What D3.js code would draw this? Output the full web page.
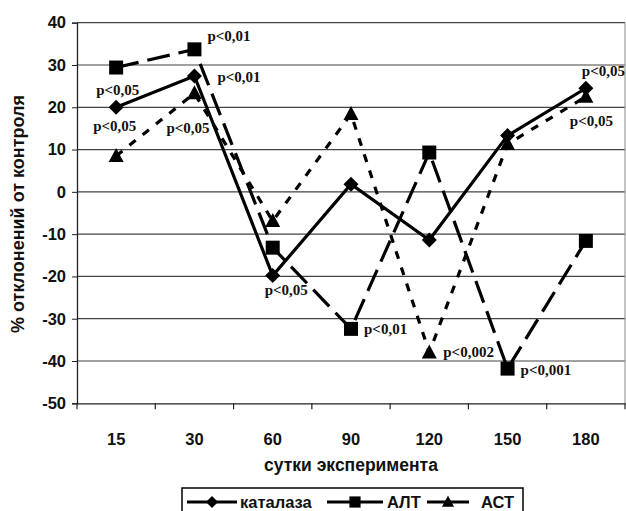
<!DOCTYPE html>
<meta charset="utf-8">
<title>каталаза, АЛТ, АСТ</title>
<script src="https://cdn.jsdelivr.net/npm/d3@7"></script>
<style>
  body { margin: 0; background: #fff; }
  svg { display: block; }
</style>
<body>
<script>

// data
var days = ["15", "30", "60", "90", "120", "150", "180"];
var catalase = [20, 27.4, -19.8, 1.8, -11.4, 13.3, 24.5];
var alt = [29.4, 33.7, -13.2, -32.4, 9.3, -41.8, -11.6];
var ast = [8.5, 23.3, -6.9, 18.4, -38, 11.3, 22.5];
var yTicks = [40, 30, 20, 10, 0, -10, -20, -30, -40, -50];

// significance marks: series, day index, text
var notes = [
  ["catalase", 0, "p<0,05"],
  ["ast", 0, "p<0,05"],
  ["alt", 1, "p<0,01"],
  ["catalase", 1, "p<0,01"],
  ["ast", 1, "p<0,05"],
  ["catalase", 2, "p<0,05"],
  ["alt", 3, "p<0,01"],
  ["ast", 4, "p<0,002"],
  ["alt", 5, "p<0,001"],
  ["catalase", 6, "p<0,05"],
  ["ast", 6, "p<0,05"]
];
// where each mark sits relative to its point (left edge, baseline)
var noteOffsets = [[-20, -12], [-23, -25], [13, -8], [23, 6], [-28, 40],
  [-8, 19], [13, 5], [14, 4], [13, 6], [-4, -12], [-16, 29]];

var series = [
  {key: "catalase", name: "каталаза", values: catalase, dash: null, marker: "diamond"},
  {key: "alt", name: "АЛТ", values: alt, dash: "23,9", marker: "square"},
  {key: "ast", name: "АСТ", values: ast, dash: "8,9", marker: "triangle"}
];

var W = 626, H = 511;
var plotL = 77, plotR = 625, plotT = 22.7, plotB = 403.3;
var sans = "Liberation Sans, Arial, sans-serif";

var svg = d3.select("body").append("svg")
    .attr("width", W)
    .attr("height", H);

var x = d3.scaleBand().domain(days).range([plotL, plotR]);
var y = d3.scaleLinear().domain([-50, 40]).range([plotB, plotT]);

// grid
svg.append("g").selectAll("line")
  .data(yTicks.filter(function(d) { return d > -50; }))
  .join("line")
    .attr("x1", plotL).attr("x2", plotR)
    .attr("y1", function(d) { return y(d); })
    .attr("y2", function(d) { return y(d); })
    .attr("stroke", "#444")
    .attr("stroke-width", 1.2);

svg.append("line")
    .attr("x1", plotR).attr("x2", plotR)
    .attr("y1", plotT).attr("y2", plotB)
    .attr("stroke", "#888");

// axes
var yAxis = svg.append("g")
    .attr("transform", "translate(" + plotL + ",0)")
    .call(d3.axisLeft(y).tickValues(yTicks).tickSize(5).tickPadding(6).tickFormat(d3.format("d")));
yAxis.select(".domain").attr("stroke", "#222").attr("stroke-width", 1.3);
yAxis.selectAll(".tick line").attr("stroke", "#222");
yAxis.selectAll("text")
    .attr("font-family", sans)
    .attr("font-weight", "bold")
    .attr("font-size", 16.5)
    .attr("fill", "#111")
    .text(function(d) { return d < 0 ? "-" + Math.abs(d) : d; });

var xAxis = svg.append("g")
    .attr("transform", "translate(0," + plotB + ")")
    .call(d3.axisBottom(x).tickSize(0).tickPadding(30));
xAxis.select(".domain").attr("stroke", "#222").attr("stroke-width", 1.3);
xAxis.selectAll("text")
    .attr("font-family", sans)
    .attr("font-weight", "bold")
    .attr("font-size", 16.5)
    .attr("fill", "#111");

// ticks between categories
svg.append("g").selectAll("line")
  .data(days.map(function(d) { return x(d); }).concat([plotR]))
  .join("line")
    .attr("x1", function(d) { return d; })
    .attr("x2", function(d) { return d; })
    .attr("y1", plotB).attr("y2", plotB + 6)
    .attr("stroke", "#222")
    .attr("stroke-width", 1.2);

// titles
svg.append("text")
    .attr("transform", "translate(24," + ((plotT + plotB) / 2 + 1) + ") rotate(-90)")
    .attr("text-anchor", "middle")
    .attr("font-family", sans)
    .attr("font-weight", "bold")
    .attr("font-size", 18)
    .attr("fill", "#111")
    .text("% отклонений от контроля");

svg.append("text")
    .attr("x", (plotL + plotR) / 2)
    .attr("y", 471)
    .attr("text-anchor", "middle")
    .attr("font-family", sans)
    .attr("font-weight", "bold")
    .attr("font-size", 17.5)
    .attr("fill", "#111")
    .text("сутки эксперимента");

function cx(i) { return x(days[i]) + x.bandwidth() / 2; }

function markerPath(type) {
  if (type === "diamond") return "M0,-7.5L7.5,0L0,7.5L-7.5,0Z";
  if (type === "square") return "M-7,-7H7V7H-7Z";
  return "M0,-8L7.5,6H-7.5Z";
}

var line = d3.line()
    .x(function(d, i) { return cx(i); })
    .y(function(d) { return y(d); });

series.forEach(function(s) {
  svg.append("path")
      .attr("d", line(s.values))
      .attr("fill", "none")
      .attr("stroke", "#000")
      .attr("stroke-width", 3.2)
      .attr("stroke-dasharray", s.dash);
});

series.forEach(function(s) {
  svg.append("g").selectAll("path")
    .data(s.values)
    .join("path")
      .attr("d", markerPath(s.marker))
      .attr("transform", function(d, i) { return "translate(" + cx(i) + "," + y(d) + ")"; })
      .attr("fill", "#000");
});

// p-values
var byKey = {};
series.forEach(function(s) { byKey[s.key] = s; });
svg.append("g").selectAll("text")
  .data(notes)
  .join("text")
    .attr("x", function(d, i) { return cx(d[1]) + noteOffsets[i][0]; })
    .attr("y", function(d, i) { return y(byKey[d[0]].values[d[1]]) + noteOffsets[i][1]; })
    .attr("font-family", "Liberation Serif, Times New Roman, serif")
    .attr("font-weight", "bold")
    .attr("font-size", 15)
    .attr("fill", "#111")
    .text(function(d) { return d[2]; });

// legend
var lg = svg.append("g");
lg.append("rect")
    .attr("x", 182).attr("y", 488)
    .attr("width", 341).attr("height", 30)
    .attr("fill", "#fff")
    .attr("stroke", "#000")
    .attr("stroke-width", 1.5);

var legendX = [187, 327, 427];
var legendW = [50, 56, 42];
var legendText = [240, 387, 481];
series.forEach(function(s, i) {
  var g = lg.append("g").attr("transform", "translate(" + legendX[i] + ",502)");
  g.append("line")
      .attr("x1", 0).attr("x2", legendW[i])
      .attr("stroke", "#000").attr("stroke-width", 3.2);
  g.append("path")
      .attr("d", markerPath(s.marker))
      .attr("transform", "translate(" + (legendW[i] / 2) + ",0) scale(0.8)")
      .attr("fill", "#000");
  lg.append("text")
      .attr("x", legendText[i])
      .attr("y", 508)
      .attr("font-family", sans)
      .attr("font-weight", "bold")
      .attr("font-size", 16.5)
      .attr("fill", "#111")
      .text(s.name);
});

</script>
</body>
